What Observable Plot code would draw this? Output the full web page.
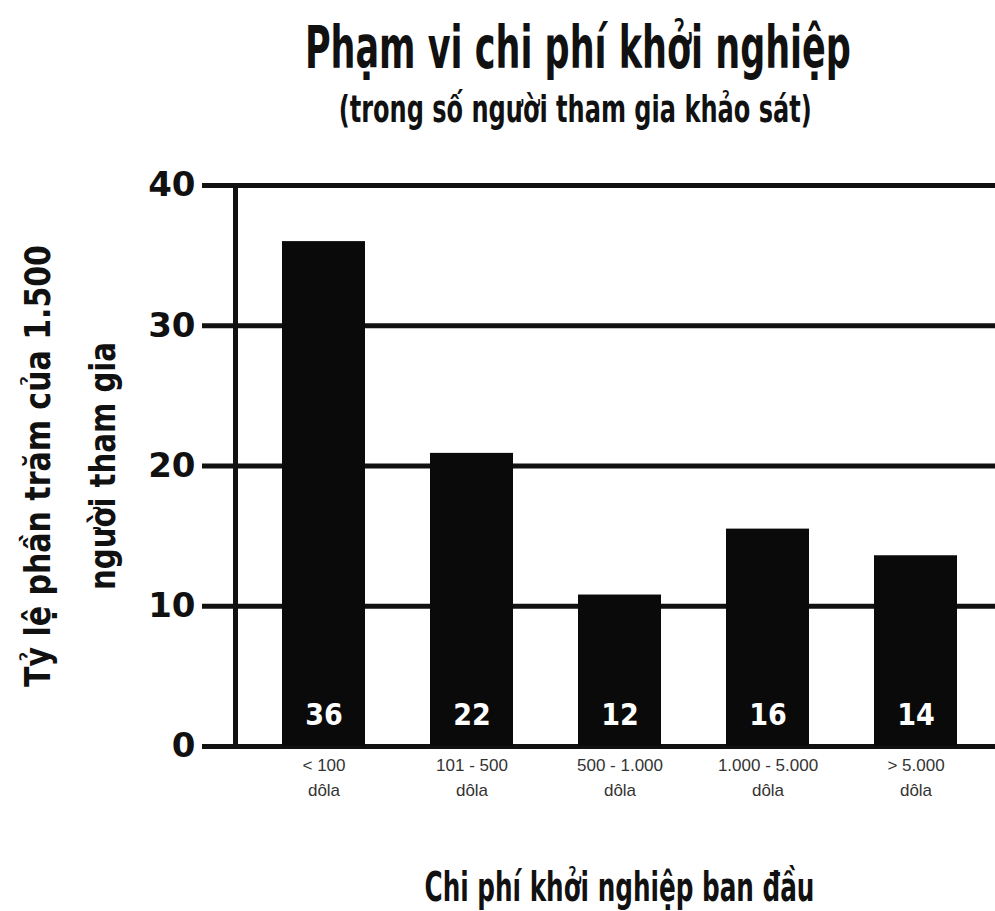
<!DOCTYPE html>
<html>
<head>
<meta charset="utf-8">
<script src="https://cdn.jsdelivr.net/npm/d3@7"></script>
<script src="https://cdn.jsdelivr.net/npm/@observablehq/plot@0.6"></script>
<style>
  body { margin: 0; background: #fff; }
  #wrap { width: 995px; position: relative; background: #fff; }
  #head { height: 160px; position: relative; }
  .hand { font-family: "DejaVu Sans Condensed", "DejaVu Sans", sans-serif; font-weight: bold; color: #111;
          white-space: nowrap; position: absolute; line-height: 1; transform-origin: center center; }
  #title { font-size: 59px; top: 18px; }
  #subtitle { font-size: 38px; top: 90px; }
</style>
</head>
<body>
<div id="wrap">
  <div id="head">
    <div id="title" class="hand">Phạm vi chi phí khởi nghiệp</div>
    <div id="subtitle" class="hand">(trong số người tham gia khảo sát)</div>
  </div>
  <div id="chart"></div>
</div>
<script>
const categories = ["< 100\ndôla", "101 - 500\ndôla", "500 - 1.000\ndôla", "1.000 - 5.000\ndôla", "> 5.000\ndôla"];
const values = [36, 20.9, 10.8, 15.5, 13.6];
const valueLabels = ["36", "22", "12", "16", "14"];
const yTicks = [0, 10, 20, 30, 40];
const yLabelLine1 = "Tỷ lệ phần trăm của 1.500";
const yLabelLine2 = "người tham gia";
const xLabel = "Chi phí khởi nghiệp ban đầu";

const data = categories.map((c, i) => ({category: c, value: values[i], label: valueLabels[i]}));

const hand = "'DejaVu Sans Condensed', 'DejaVu Sans', sans-serif";

const chart = Plot.plot({
  width: 995,
  height: 751,
  marginLeft: 243,
  marginRight: 0,
  marginTop: 25,
  marginBottom: 165,
  style: {background: "white", color: "#111"},
  x: {domain: categories, paddingInner: 0.44, paddingOuter: 0.256, label: null},
  y: {domain: [0, 40], label: null},
  marks: [
    Plot.ruleY(yTicks, {stroke: "#111", strokeWidth: 5, insetLeft: -41}),
    Plot.frame({anchor: "left", stroke: "#111", strokeWidth: 5, dx: -8}),
    Plot.barY(data, {x: "category", y: "value", fill: "#0a0a0a"}),
    Plot.text(data, {x: "category", text: "label", frameAnchor: "bottom", dy: -31, lineAnchor: "middle",
      fill: "white", fontSize: 30, fontWeight: "bold", fontFamily: hand}),
    Plot.axisY({ticks: yTicks, tickSize: 0, tickPadding: 48, fontSize: 34, fontWeight: "bold",
      fontFamily: "'DejaVu Sans', sans-serif", label: null}),
    Plot.axisX({tickSize: 0, tickPadding: 7, fontSize: 17, fill: "#333", lineHeight: 1.45,
      fontFamily: "'Liberation Sans', Arial, sans-serif", label: null}),
    Plot.text([yLabelLine1], {frameAnchor: "left", textAnchor: "middle", rotate: -90, dx: -194, lineAnchor: "bottom",
      fontSize: 36, fontWeight: "bold", fontFamily: hand, fill: "#111"}),
    Plot.text([yLabelLine2], {frameAnchor: "left", textAnchor: "middle", rotate: -90, dx: -129, lineAnchor: "bottom",
      fontSize: 36, fontWeight: "bold", fontFamily: hand, fill: "#111"}),
    Plot.text([xLabel], {frameAnchor: "bottom", textAnchor: "middle", dy: 154, lineAnchor: "bottom",
      fontSize: 40, fontWeight: "bold", fontFamily: hand, fill: "#111"})
  ]
});
document.getElementById("chart").appendChild(chart);

// squeeze hand-lettered texts along their own direction to the reference lengths
function fitSvgText(content, len) {
  chart.querySelectorAll("text").forEach(t => {
    if (t.textContent === content) {
      const natural = t.getComputedTextLength();
      const tr = t.getAttribute("transform") || "";
      const x = +(t.getAttribute("x") || 0), y = +(t.getAttribute("y") || 0);
      t.removeAttribute("x");
      t.removeAttribute("y");
      t.setAttribute("transform", `${tr} translate(${x},${y}) scale(${len / natural},1)`);
    }
  });
}
fitSvgText(yLabelLine1, 442);
fitSvgText(yLabelLine2, 248);
fitSvgText(xLabel, 390);

function fitHtml(el, centerX, width) {
  const w = el.getBoundingClientRect().width;
  el.style.left = (centerX - w / 2) + "px";
  el.style.transform = `scaleX(${width / w})`;
}
fitHtml(document.getElementById("title"), 578, 546);
fitHtml(document.getElementById("subtitle"), 575, 473);
</script>
</body>
</html>
